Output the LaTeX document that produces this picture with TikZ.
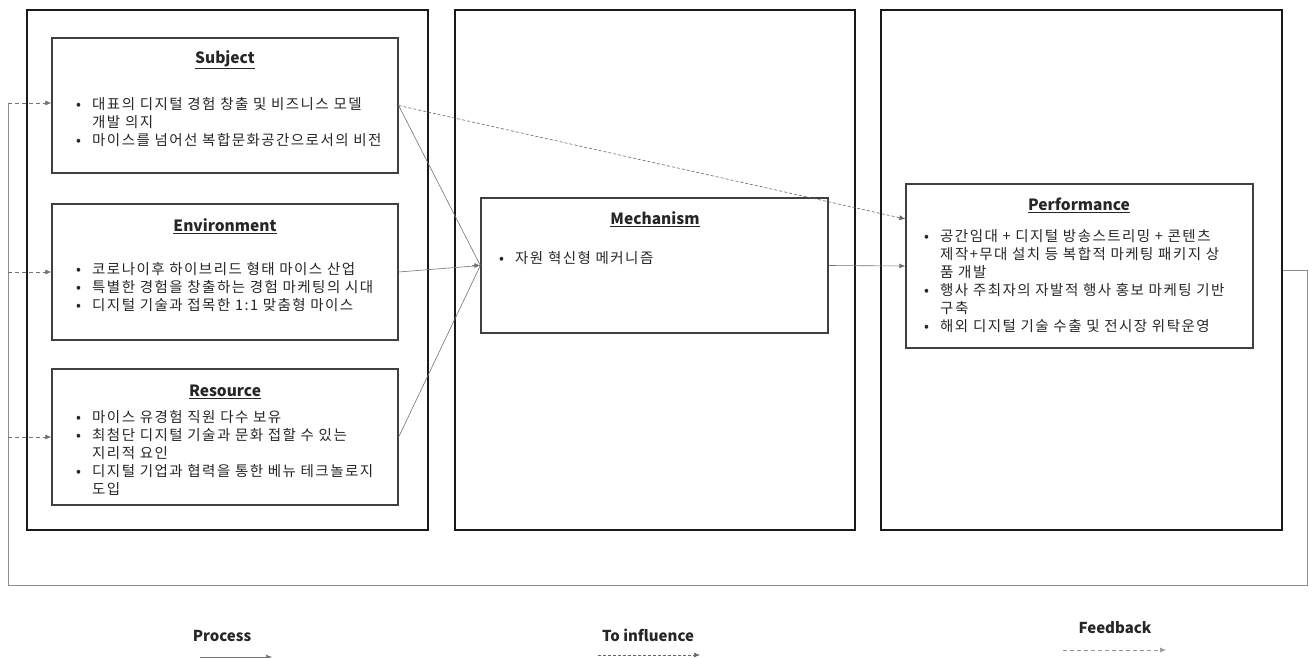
\documentclass[tikz,border=0pt]{standalone}
\usepackage{fontspec}
\setmainfont{Noto Sans CJK KR}[LetterSpace=10]
\newfontfamily\titlefont{Noto Sans CJK KR}
\usetikzlibrary{arrows.meta,calc}
\tikzset{
  outerbox/.style={draw=black!90, line width=2.2pt},
  innerbox/.style={draw=black!75, line width=1.3pt},
  ttl/.style={font=\titlefont\bfseries\fontsize{15.5}{17}\selectfont, text=black!85},
  body/.style={align=left, anchor=north west, inner sep=0pt, text=black!85,
               font=\fontsize{14.5}{18}\selectfont},
  proc/.style={draw=black!55, line width=0.6pt, -{Latex[length=6pt,width=5pt]}},
  procline/.style={draw=black!55, line width=0.6pt},
  infl/.style={draw=black!60, line width=0.6pt, dash pattern=on 3pt off 2pt, -{Latex[length=6pt,width=5pt]}},
  fbline/.style={draw=black!45, line width=0.6pt},
  fbarrow/.style={draw=black!55, line width=0.6pt, dash pattern=on 4pt off 3pt, -{Latex[length=6pt,width=5pt]}},
  leg/.style={font=\titlefont\bfseries\fontsize{15}{17}\selectfont, text=black!85},
}
\newcommand{\bl}{\makebox[16pt][l]{•}}
\newcommand{\ind}{\hspace*{16pt}}
\begin{document}
\begin{tikzpicture}[x=1pt,y=-1pt]
\useasboundingbox (0,0) rectangle (1312,658);
% outer boxes
\node[outerbox, minimum width=401pt, minimum height=520pt] (box1) at (227.5,270) {};
\node[outerbox, minimum width=400pt, minimum height=520pt] (box2) at (655,270) {};
\node[outerbox, minimum width=401pt, minimum height=520pt] (box3) at (1081.5,270) {};
% inner boxes
\node[innerbox, minimum width=346pt, minimum height=135pt] (subj) at (225,105.5) {};
\node[innerbox, minimum width=346pt, minimum height=136pt] (env) at (225,272) {};
\node[innerbox, minimum width=346pt, minimum height=136pt] (res) at (225,437) {};
\node[innerbox, minimum width=347pt, minimum height=135pt] (mech) at (654.5,265.5) {};
\node[innerbox, minimum width=347pt, minimum height=164pt] (perf) at (1079.5,266) {};
% titles
\node[ttl] (subjT) at (225,60) {\underline{Subject}};
\node[ttl] (envT) at (225,226) {\underline{Environment}};
\node[ttl] (resT) at (225,392) {\underline{Resource}};
\node[ttl] (mechT) at (655,219) {\underline{Mechanism}};
\node[ttl] (perfT) at (1079,205) {\underline{Performance}};
% bodies
\node[body] (subjB) at (76,97) {\bl 대표의 디지털 경험 창출 및 비즈니스 모델\\\ind 개발 의지\\\bl 마이스를 넘어선 복합문화공간으로서의 비전};
\node[body] (envB) at (76,262) {\bl 코로나이후 하이브리드 형태 마이스 산업\\\bl 특별한 경험을 창출하는 경험 마케팅의 시대\\\bl 디지털 기술과 접목한 1:1 맞춤형 마이스};
\node[body] (resB) at (76,410) {\bl 마이스 유경험 직원 다수 보유\\\bl 최첨단 디지털 기술과 문화 접할 수 있는\\\ind 지리적 요인\\\bl 디지털 기업과 협력을 통한 베뉴 테크놀로지\\\ind 도입};
\node[body] (mechB) at (499,251) {\bl 자원 혁신형 메커니즘};
\node[body] (perfB) at (924,229) {\bl 공간임대 + 디지털 방송스트리밍 + 콘텐츠\\\ind 제작+무대 설치 등 복합적 마케팅 패키지 상\\\ind 품 개발\\\bl 행사 주최자의 자발적 행사 홍보 마케팅 기반\\\ind 구축\\\bl 해외 디지털 기술 수출 및 전시장 위탁운영};
% process arrows
\draw[procline] (subj.east) -- (mech.west);
\draw[procline] (env.east) -- (mech.west);
\draw[procline] (res.east) -- (mech.west);
\draw[proc] ([xshift=-8pt]mech.west) -- (mech.west);
\draw[proc] (mech.east) -- (perf.west);
% influence
\draw[infl] (subj.east) -- ([yshift=47pt]perf.west);
% feedback loop
\coordinate (fbR) at (1307,270);
\coordinate (fbRB) at (1307,585);
\coordinate (fbLB) at (8,585);
\coordinate (fbLT) at (8,103);
\draw[fbline] (box3.east) -- (fbR) -- (fbRB) -- (fbLB) -- (fbLT);
\draw[fbarrow] (fbLT) -- (subj.west |- fbLT);
\draw[fbarrow] (fbLB |- env.west) -- (env.west);
\draw[fbarrow] (fbLB |- res.west) -- (res.west);
% legend
\node[leg] (legP) at (222,636) {Process};
\coordinate (lp1) at (200,657);
\coordinate (lp2) at (272,657);
\draw[proc] (lp1) -- (lp2);
\node[leg] (legI) at (648,635) {To influence};
\coordinate (li1) at (598,655);
\coordinate (li2) at (700,655);
\draw[infl] (li1) -- (li2);
\node[leg] (legF) at (1115,628) {Feedback};
\coordinate (lf1) at (1063,650);
\coordinate (lf2) at (1166,650);
\draw[fbarrow, draw=black!40] (lf1) -- (lf2);
\end{tikzpicture}
\end{document}
